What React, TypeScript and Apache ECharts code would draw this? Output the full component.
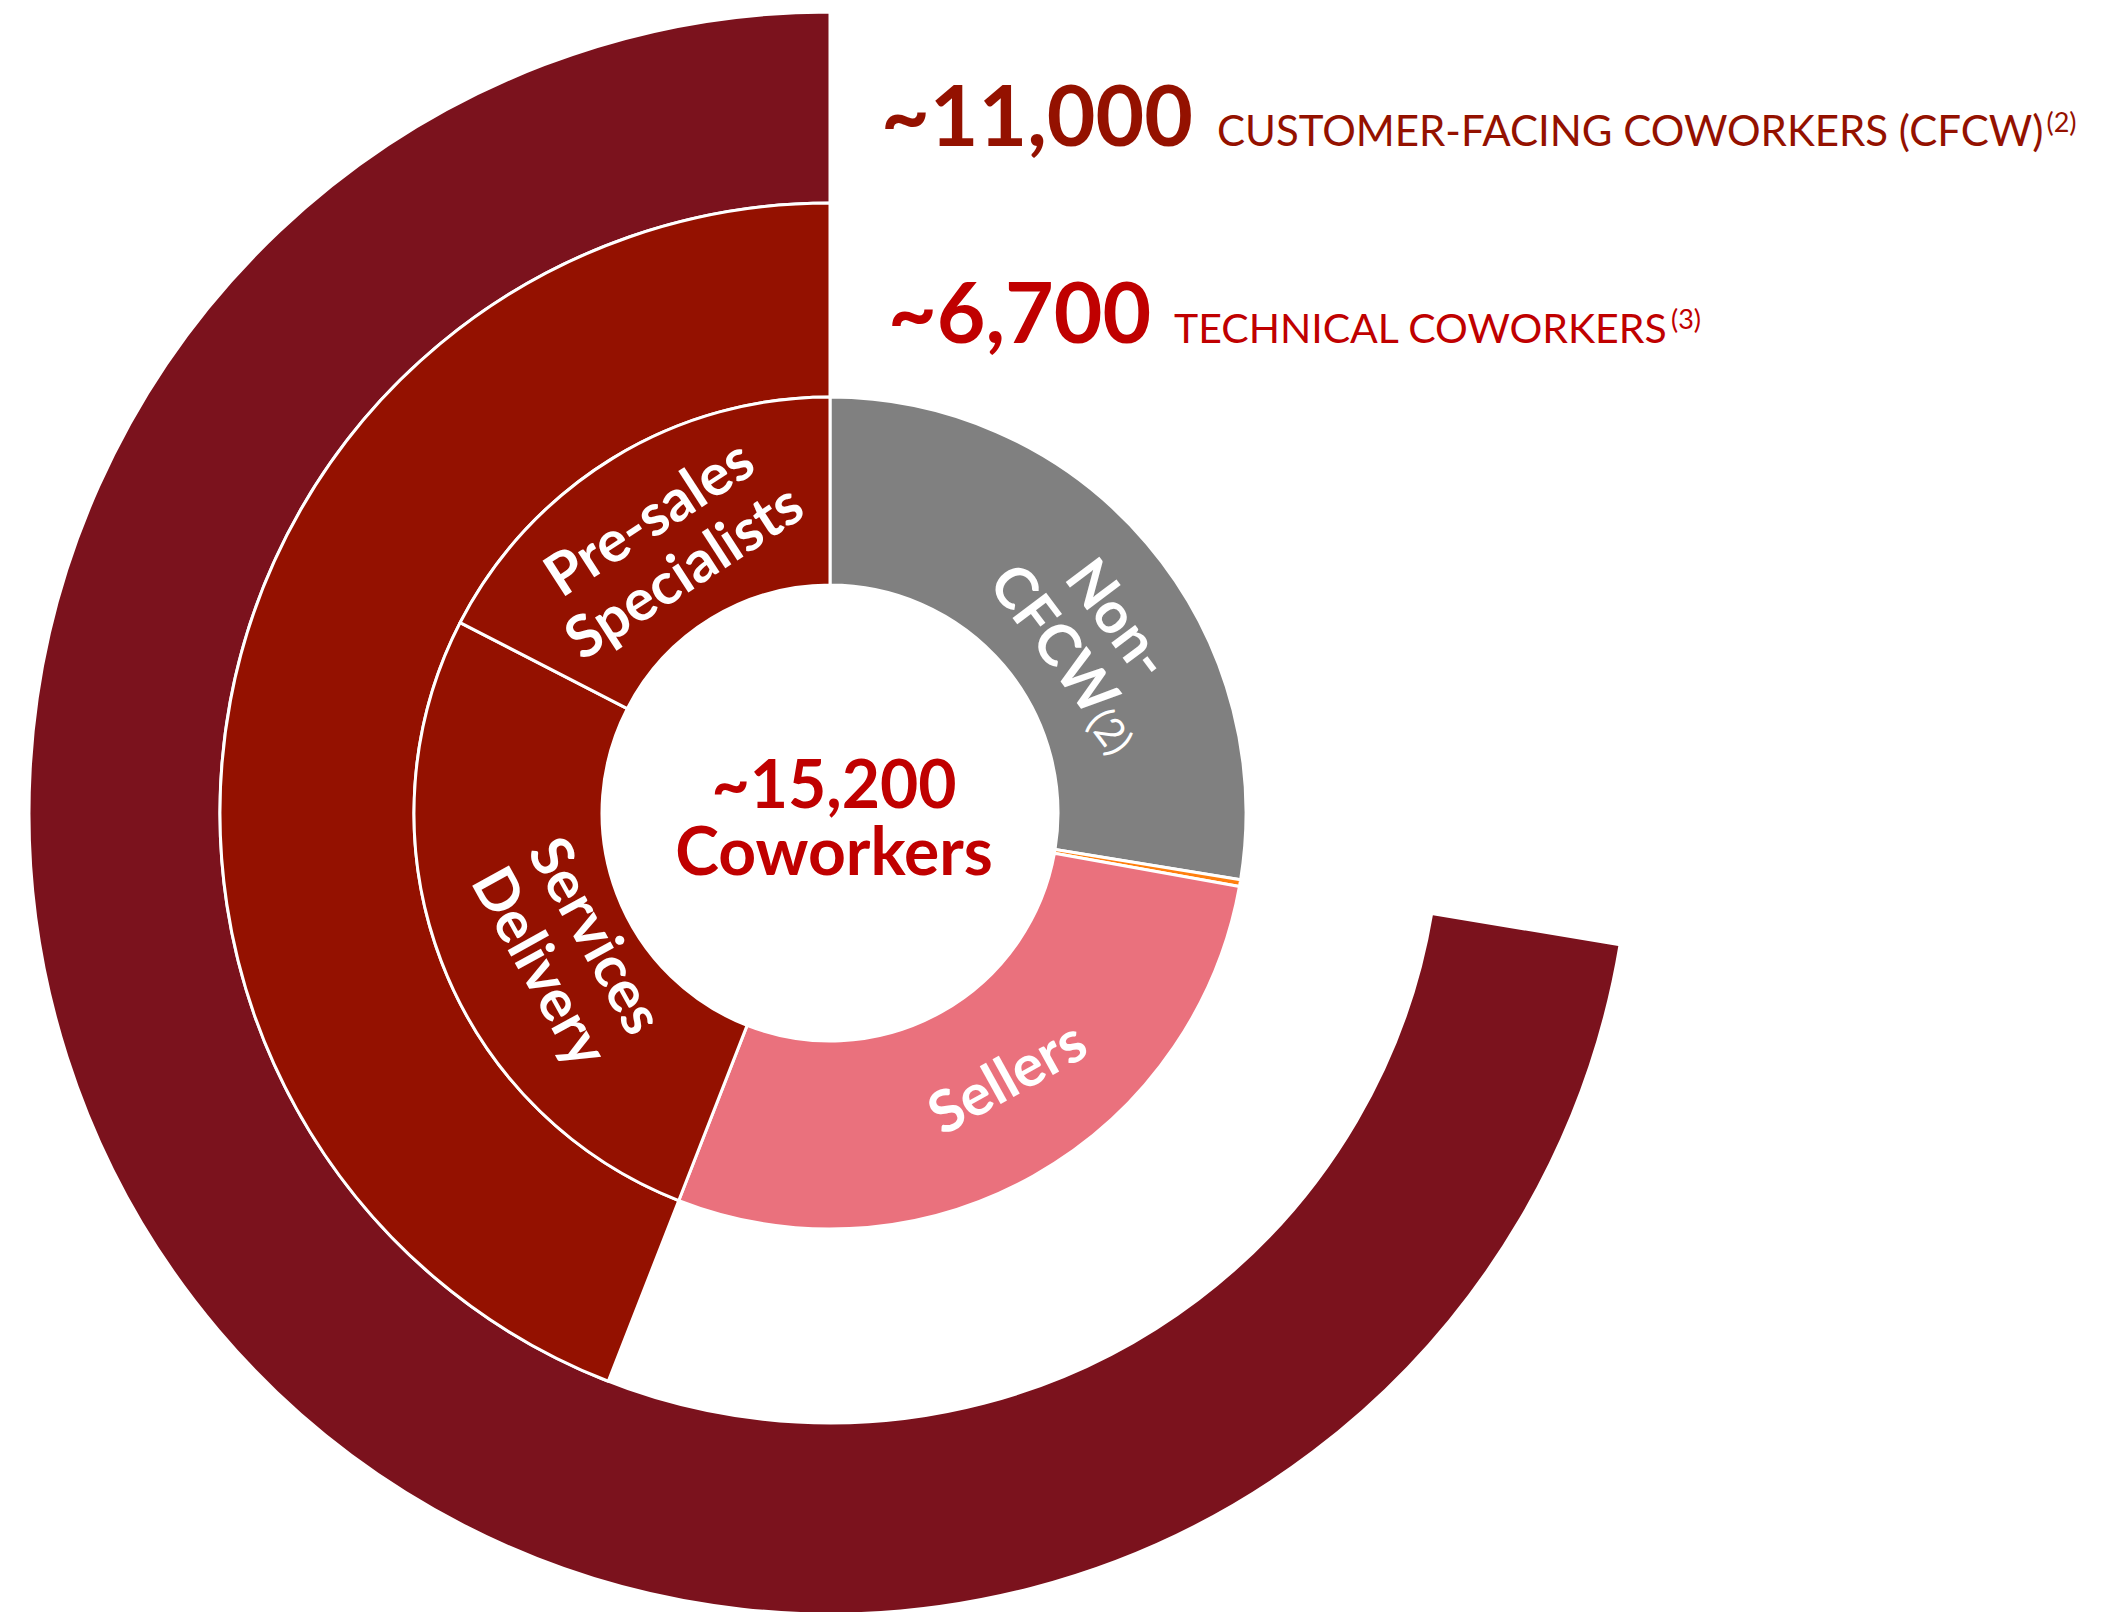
import React, { useEffect, useRef } from 'react';
import * as echarts from 'echarts';

// ---- Data ----
const innerCategories = ['Non-CFCW', 'Other', 'Sellers', 'Services Delivery', 'Pre-sales Specialists'];
const innerValues = [4190, 40, 4270, 4050, 2650];
const innerLabels = ['{b|Non-}\n{b|CFCW}{s|(2)}', '', '{b|Sellers}', '{b|Services}\n{b|Delivery}', '{b|Pre-sales}\n{b|Specialists}'];
const innerColors = ['#808080', '#FF7F0E', '#EA717D', '#941100', '#941100'];

const technicalCategories = ['Non-technical coworkers', 'Technical coworkers'];
const technicalValues = [8500, 6700];

const cfcwCategories = ['Non-CFCW', 'Customer-facing coworkers'];
const cfcwValues = [4200, 11000];

const headlineNumbers = ['~11,000', '~6,700'];
const headlineTexts = ['CUSTOMER-FACING COWORKERS (CFCW)', 'TECHNICAL COWORKERS'];
const headlineNotes = ['(2)', '(3)'];
const totalLines = ['~15,200', 'Coworkers'];

const FONT = 'Lato, "Open Sans", sans-serif';
const CENTER = [830, 813];
const DARK = '#941100';
const MAROON = '#7B121D';
const RED = '#C00000';
// label styling for the inner ring: rotation (deg, anticlockwise) and screen-space nudge (px)
const LABEL_ROTATE = [-53, 0, 29, -61, 33];
const LABEL_NUDGE = [[28, 25], [0, 0], [24, -9], [31, 27], [-3, -5]];

export default function App() {
  const ref = useRef<HTMLDivElement>(null);

  useEffect(() => {
    if (!ref.current) return;
    const chart = echarts.init(ref.current, null, { renderer: 'svg' });

    const hidden = {
      itemStyle: { color: 'transparent', borderWidth: 0 },
      label: { show: false },
      emphasis: { disabled: true },
    };

    const ringBase = {
      type: 'pie',
      center: CENTER,
      startAngle: 90,
      clockwise: true,
      silent: true,
      avoidLabelOverlap: false,
      labelLine: { show: false },
      emphasis: { disabled: true },
    };

    const option: any = {
      animation: false,
      backgroundColor: '#ffffff',
      series: [
        {
          ...ringBase,
          name: 'CFCW',
          radius: [610, 801],
          label: { show: false },
          itemStyle: { borderColor: '#ffffff', borderWidth: 3 },
          data: cfcwCategories.map((name, i) =>
            i === 0
              ? { name, value: cfcwValues[i], ...hidden }
              : { name, value: cfcwValues[i], itemStyle: { color: MAROON } }
          ),
        },
        {
          ...ringBase,
          name: 'Technical',
          radius: [416, 610],
          label: { show: false },
          itemStyle: { borderColor: '#ffffff', borderWidth: 3 },
          data: technicalCategories.map((name, i) =>
            i === 0
              ? { name, value: technicalValues[i], ...hidden }
              : { name, value: technicalValues[i], itemStyle: { color: DARK } }
          ),
        },
        {
          ...ringBase,
          name: 'Coworkers',
          radius: [228, 416],
          label: { show: false },
          itemStyle: { borderColor: '#ffffff', borderWidth: 3 },
          data: innerCategories.map((name, i) => ({
            name,
            value: innerValues[i],
            itemStyle: { color: innerColors[i] },
          })),
        },
        {
          // label layer for the inner ring (same values)
          ...ringBase,
          name: 'Coworkers labels',
          radius: [228, 388],
          itemStyle: { color: 'transparent', borderWidth: 0 },
          label: {
            show: true,
            position: 'inside',
            color: '#ffffff',
            rich: {
              b: { fontFamily: FONT, fontWeight: 'bold', fontSize: 58, lineHeight: 64, color: '#ffffff' },
              s: { fontFamily: FONT, fontWeight: 'normal', fontSize: 40, lineHeight: 64, color: '#ffffff', verticalAlign: 'bottom' },
            },
          },
          labelLayout: (params: any) => {
            const i = params.dataIndex;
            const n = LABEL_NUDGE[i] || [0, 0];
            const phi = ((LABEL_ROTATE[i] || 0) * Math.PI) / 180;
            const c = Math.cos(phi);
            const s = Math.sin(phi);
            // convert screen-space nudge into the label's rotated frame
            return { dx: n[0] * c - n[1] * s, dy: n[0] * s + n[1] * c };
          },
          data: innerCategories.map((name, i) => ({
            name,
            value: innerValues[i],
            label: innerLabels[i] ? { formatter: innerLabels[i], rotate: LABEL_ROTATE[i] } : { show: false },
          })),
        },
      ],
      graphic: [
        { type: 'text', x: 881, y: 113, style: { text: headlineNumbers[0], fill: DARK, fontFamily: FONT, fontWeight: 'bold', fontSize: 84, align: 'left', verticalAlign: 'middle' } },
        {
          type: 'text', x: 1217, y: 130,
          style: {
            text: `{t|${headlineTexts[0]}}{s|${headlineNotes[0]}}`,
            fill: DARK, align: 'left', verticalAlign: 'middle',
            rich: {
              t: { fontFamily: FONT, fontWeight: 'normal', fontSize: 42, lineHeight: 44, fill: DARK },
              s: { fontFamily: FONT, fontWeight: 'normal', fontSize: 27, lineHeight: 29, fill: DARK, verticalAlign: 'top', padding: [0, 0, 0, 3] },
            },
          },
        },
        { type: 'text', x: 888, y: 310, style: { text: headlineNumbers[1], fill: RED, fontFamily: FONT, fontWeight: 'bold', fontSize: 84, align: 'left', verticalAlign: 'middle' } },
        {
          type: 'text', x: 1174, y: 327,
          style: {
            text: `{t|${headlineTexts[1]}}{s|${headlineNotes[1]}}`,
            fill: RED, align: 'left', verticalAlign: 'middle',
            rich: {
              t: { fontFamily: FONT, fontWeight: 'normal', fontSize: 41, lineHeight: 44, fill: RED },
              s: { fontFamily: FONT, fontWeight: 'normal', fontSize: 27, lineHeight: 29, fill: RED, verticalAlign: 'top', padding: [0, 0, 0, 3] },
            },
          },
        },
        {
          type: 'text', x: 834, y: 816,
          style: {
            text: totalLines.join('\n'), fill: RED, fontFamily: FONT, fontWeight: 'bold', fontSize: 66, lineHeight: 67,
            align: 'center', verticalAlign: 'middle',
          },
        },
      ],
    };

    chart.setOption(option);
    return () => chart.dispose();
  }, []);

  return (
    <div
      ref={ref}
      style={{ position: 'fixed', left: 0, top: 0, width: '2125px', height: '1612px', background: '#ffffff' }}
    />
  );
}
